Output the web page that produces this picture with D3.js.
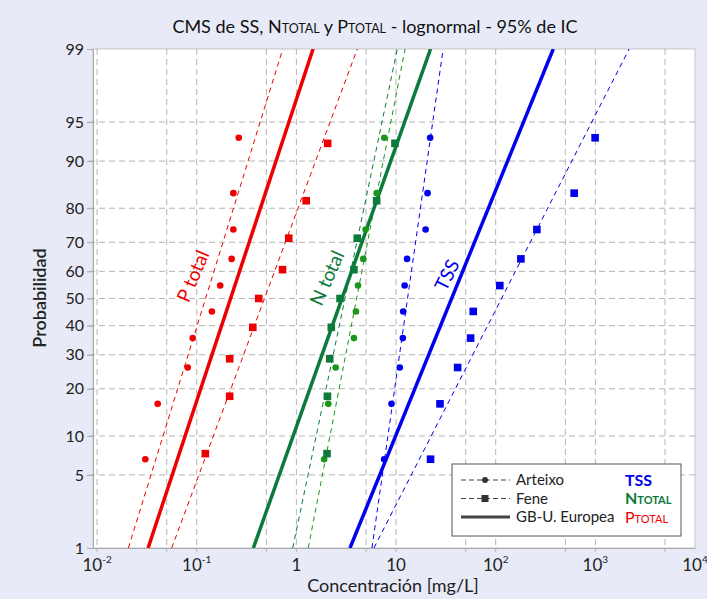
<!DOCTYPE html>
<html>
<head>
<meta charset="utf-8">
<script src="https://cdn.jsdelivr.net/npm/d3@7"></script>
<style>
  body { margin: 0; background: #e8eaf7; }
  text { font-family: Lato, "Open Sans", sans-serif; }
</style>
</head>
<body>
<svg id="chart" width="707" height="599"></svg>
<script>
// probabilities (%) of the plotted points (median ranks)
var prob10 = [6.7, 16.3, 26.0, 35.6, 45.2, 54.8, 64.4, 74.0, 83.7, 93.3]
var prob9 = [7.4, 18.1, 28.7, 39.4, 50.0, 60.6, 71.3, 81.9, 92.6]

// concentrations [mg/L]
var tssArteixo = [7.6, 9.0, 10.9, 11.7, 11.8, 12.2, 12.9, 19.8, 20.7, 22.0]
var tssFene = [22.2, 27.6, 41.5, 56.0, 59.5, 110, 179, 259, 613, 995]
var nArteixo = [1.9, 2.09, 2.48, 3.78, 3.96, 4.15, 4.69, 4.95, 6.39, 7.62]
var nFene = [2.03, 2.05, 2.16, 2.24, 2.74, 3.78, 4.08, 6.39, 9.75]
var pArteixo = [0.0305, 0.0406, 0.0812, 0.0912, 0.142, 0.172, 0.224, 0.233, 0.233, 0.264]
var pFene = [0.122, 0.214, 0.214, 0.365, 0.419, 0.726, 0.838, 1.254, 2.06]

// fitted lognormal lines: concentration at 1% and 99%
var lineProb = [1, 99]
var tssGB = [3.45, 378]
var tssArteixoFit = [5.73, 29.7]
var tssFeneFit = [6.0, 2183]
var nGB = [0.37, 22.2]
var nArteixoFit = [1.315, 12.3]
var nFeneFit = [0.918, 10.3]
var pGB = [0.0325, 1.47]
var pArteixoFit = [0.0206, 0.73]
var pFeneFit = [0.0561, 4.08]

// axis ticks
var yTicks = [1, 5, 10, 20, 30, 40, 50, 60, 70, 80, 90, 95, 99]
var yGrid = [5, 10, 20, 30, 40, 50, 60, 70, 80, 90, 95]
var xGrid = [0.01, 0.05, 0.1, 0.5, 1, 5, 10, 50, 100, 500, 1000, 5000]
var xLabels = [["10", "-2"], ["10", "-1"], ["1", ""], ["10", ""], ["10", "2"], ["10", "3"], ["10", "4"]]
var xLabelVals = [0.01, 0.1, 1, 10, 100, 1000, 10000]

var red = "#ee0000", blue = "#0000ee", green = "#0b7a3b", lgreen = "#1a961a"

// inverse normal cdf (Acklam)
function probit(p) {
  var a = [-3.969683028665376e+01, 2.209460984245205e+02, -2.759285104469687e+02, 1.383577518672690e+02, -3.066479806614716e+01, 2.506628277459239e+00]
  var b = [-5.447609879822406e+01, 1.615858368580409e+02, -1.556989798598866e+02, 6.680131188771972e+01, -1.328068155288572e+01]
  var c = [-7.784894002430293e-03, -3.223964580411365e-01, -2.400758277161838e+00, -2.549732539343734e+00, 4.374664141464968e+00, 2.938163982698783e+00]
  var d = [7.784695709041462e-03, 3.224671290700398e-01, 2.445134137142996e+00, 3.754408661907416e+00]
  var q, r
  if (p < 0.02425) {
    q = Math.sqrt(-2 * Math.log(p))
    return (((((c[0]*q+c[1])*q+c[2])*q+c[3])*q+c[4])*q+c[5]) / ((((d[0]*q+d[1])*q+d[2])*q+d[3])*q+1)
  } else if (p <= 1 - 0.02425) {
    q = p - 0.5; r = q * q
    return (((((a[0]*r+a[1])*r+a[2])*r+a[3])*r+a[4])*r+a[5])*q / (((((b[0]*r+b[1])*r+b[2])*r+b[3])*r+b[4])*r+1)
  } else {
    q = Math.sqrt(-2 * Math.log(1 - p))
    return -(((((c[0]*q+c[1])*q+c[2])*q+c[3])*q+c[4])*q+c[5]) / ((((d[0]*q+d[1])*q+d[2])*q+d[3])*q+1)
  }
}

var plotL = 93, plotR = 695, plotT = 49, plotB = 548

var svg = d3.select("#chart")

var x = d3.scaleLog().domain([0.0091, 10000]).range([plotL, plotR])
var z = d3.scaleLinear().domain([probit(0.01), probit(0.99)]).range([plotB, plotT])
function y(p) { return z(probit(p / 100)) }

// plot area
svg.append("rect")
  .attr("x", plotL).attr("y", plotT)
  .attr("width", plotR - plotL).attr("height", plotB - plotT)
  .attr("fill", "white").attr("stroke", "#c4c4c4")

svg.append("clipPath").attr("id", "clip")
  .append("rect").attr("x", plotL).attr("y", plotT)
  .attr("width", plotR - plotL).attr("height", plotB - plotT)

// grid
svg.append("g").selectAll("line").data(xGrid).enter().append("line")
  .attr("x1", function(d){ return x(d) }).attr("x2", function(d){ return x(d) })
  .attr("y1", plotT).attr("y2", plotB + 4)
  .attr("stroke", "#b4b4b4").attr("stroke-dasharray", "6,4")

svg.append("g").selectAll("line").data(yGrid).enter().append("line")
  .attr("x1", plotL - 4).attr("x2", plotR)
  .attr("y1", function(d){ return y(d) }).attr("y2", function(d){ return y(d) })
  .attr("stroke", "#b4b4b4").attr("stroke-dasharray", "6,4")

// y axis
var yAxis = svg.append("g")
  .attr("transform", "translate(" + plotL + ",0)")
  .call(d3.axisLeft(d3.scaleLinear().domain([plotB, plotT]).range([plotB, plotT]))
    .tickValues(yTicks.map(function(d){ return y(d) }))
    .tickFormat(function(d, i){ return yTicks[i] })
    .tickSize(6).tickPadding(3))
yAxis.select(".domain").attr("stroke", "#aaa")
yAxis.selectAll(".tick line").attr("stroke", "#aaa")
yAxis.selectAll("text").style("font-size", "16px").style("fill", "#222")
  .style("font-family", "Lato, sans-serif")

// x axis
var xAxis = svg.append("g")
  .attr("transform", "translate(0," + plotB + ")")
  .call(d3.axisBottom(x).tickValues(xGrid).tickFormat("").tickSize(0))
xAxis.select(".domain").attr("stroke", "#aaa")

var xl = svg.append("g").selectAll("text").data(xLabelVals).enter().append("text")
  .attr("x", function(d){ return x(d) })
  .attr("y", 571)
  .attr("text-anchor", "middle")
  .style("font-size", "17px").style("fill", "#222")
xl.append("tspan").text(function(d, i){ return xLabels[i][0] })
xl.append("tspan").attr("dy", -8).style("font-size", "10px")
  .text(function(d, i){ return xLabels[i][1] })

// fitted lines
var plot = svg.append("g").attr("clip-path", "url(#clip)")
var line = d3.line()
  .x(function(d){ return x(d[0]) })
  .y(function(d){ return y(d[1]) })

var fits = [
  {v: pArteixoFit, c: red, w: 1, dash: "5,4"},
  {v: pFeneFit, c: red, w: 1, dash: "5,4"},
  {v: pGB, c: red, w: 3.5, dash: null},
  {v: nArteixoFit, c: lgreen, w: 1, dash: "5,4"},
  {v: nFeneFit, c: green, w: 1, dash: "5,4"},
  {v: nGB, c: green, w: 3.5, dash: null},
  {v: tssArteixoFit, c: blue, w: 1, dash: "5,4"},
  {v: tssFeneFit, c: blue, w: 1, dash: "5,4"},
  {v: tssGB, c: blue, w: 3.5, dash: null}
]
plot.selectAll("path.fit").data(fits).enter().append("path")
  .attr("class", "fit")
  .attr("d", function(d){ return line(d.v.map(function(v, i){ return [v, lineProb[i]] })) })
  .attr("fill", "none")
  .attr("stroke", function(d){ return d.c })
  .attr("stroke-width", function(d){ return d.w })
  .attr("stroke-dasharray", function(d){ return d.dash })

// points
var circles = [
  {v: pArteixo, c: red},
  {v: nArteixo, c: lgreen},
  {v: tssArteixo, c: blue}
]
var squares = [
  {v: pFene, p: prob9, c: red},
  {v: nFene, p: prob9, c: green},
  {v: tssFene, p: prob10, c: blue}
]
circles.forEach(function(s){
  plot.append("g").selectAll("circle").data(s.v).enter().append("circle")
    .attr("cx", function(d){ return x(d) })
    .attr("cy", function(d, i){ return y(prob10[i]) })
    .attr("r", 3.3)
    .attr("fill", s.c)
})
squares.forEach(function(s){
  plot.append("g").selectAll("rect").data(s.v).enter().append("rect")
    .attr("x", function(d){ return x(d) - 3.8 })
    .attr("y", function(d, i){ return y(s.p[i]) - 3.8 })
    .attr("width", 7.6).attr("height", 7.6)
    .attr("fill", s.c)
})

// series labels on the chart
var tags = [
  {t: "P total", x: 193, y: 276, c: red, a: -67},
  {t: "N total", x: 327, y: 278, c: green, a: -66},
  {t: "TSS", x: 447, y: 275, c: blue, a: -64}
]
svg.append("g").selectAll("text").data(tags).enter().append("text")
  .attr("transform", function(d){ return "translate(" + d.x + "," + d.y + ") rotate(" + d.a + ")" })
  .attr("text-anchor", "middle").attr("dy", "0.35em")
  .style("font-size", "19px")
  .style("fill", function(d){ return d.c })
  .text(function(d){ return d.t })

// title
var title = svg.append("text").attr("x", 375).attr("y", 33)
  .attr("text-anchor", "middle").style("font-size", "18px").style("fill", "#111")
title.append("tspan").text("CMS de SS, N")
title.append("tspan").style("font-size", "12.5px").text("TOTAL")
title.append("tspan").text("  y P")
title.append("tspan").style("font-size", "12.5px").text("TOTAL")
title.append("tspan").text(" - lognormal - 95% de IC")

// axis titles
svg.append("text")
  .attr("transform", "translate(40,298) rotate(-90)")
  .attr("text-anchor", "middle").attr("dy", "0.35em")
  .style("font-size", "18px").style("font-weight", "600").style("fill", "#222")
  .text("Probabilidad")

svg.append("text").attr("x", 393).attr("y", 592)
  .attr("text-anchor", "middle")
  .style("font-size", "18px").style("fill", "#222")
  .text("Concentración [mg/L]")

// legend
var lg = svg.append("g")
lg.append("rect").attr("x", 452).attr("y", 464).attr("width", 229).attr("height", 72)
  .attr("fill", "white").attr("stroke", "#555")

var legRows = ["Arteixo", "Fene", "GB-U. Europea"]
var legY = [480, 498.5, 517]
lg.selectAll("line.l").data(legRows).enter().append("line")
  .attr("x1", 461).attr("x2", 510)
  .attr("y1", function(d, i){ return legY[i] }).attr("y2", function(d, i){ return legY[i] })
  .attr("stroke", "#444")
  .attr("stroke-width", function(d, i){ return i == 2 ? 3 : 1 })
  .attr("stroke-dasharray", function(d, i){ return i == 2 ? null : "5,3" })
lg.append("circle").attr("cx", 485).attr("cy", legY[0]).attr("r", 3).attr("fill", "#333")
lg.append("rect").attr("x", 481.5).attr("y", legY[1] - 3.5).attr("width", 7).attr("height", 7).attr("fill", "#333")
lg.selectAll("text.l").data(legRows).enter().append("text")
  .attr("x", 516).attr("y", function(d, i){ return legY[i] }).attr("dy", "0.35em")
  .style("font-size", "15px").style("fill", "#222")
  .text(function(d){ return d })

lg.append("text").attr("x", 625).attr("y", legY[0]).attr("dy", "0.35em")
  .style("font-size", "16px").style("font-weight", "bold").style("fill", blue).text("TSS")
var ln = lg.append("text").attr("x", 625).attr("y", legY[1]).attr("dy", "0.35em")
  .style("font-size", "16px").style("fill", green).style("font-weight", "bold")
ln.append("tspan").text("N")
ln.append("tspan").style("font-size", "11px").text("TOTAL")
var lp = lg.append("text").attr("x", 625).attr("y", legY[2]).attr("dy", "0.35em")
  .style("font-size", "16px").style("fill", red)
lp.append("tspan").text("P")
lp.append("tspan").style("font-size", "11px").text("TOTAL")
</script>
</body>
</html>
